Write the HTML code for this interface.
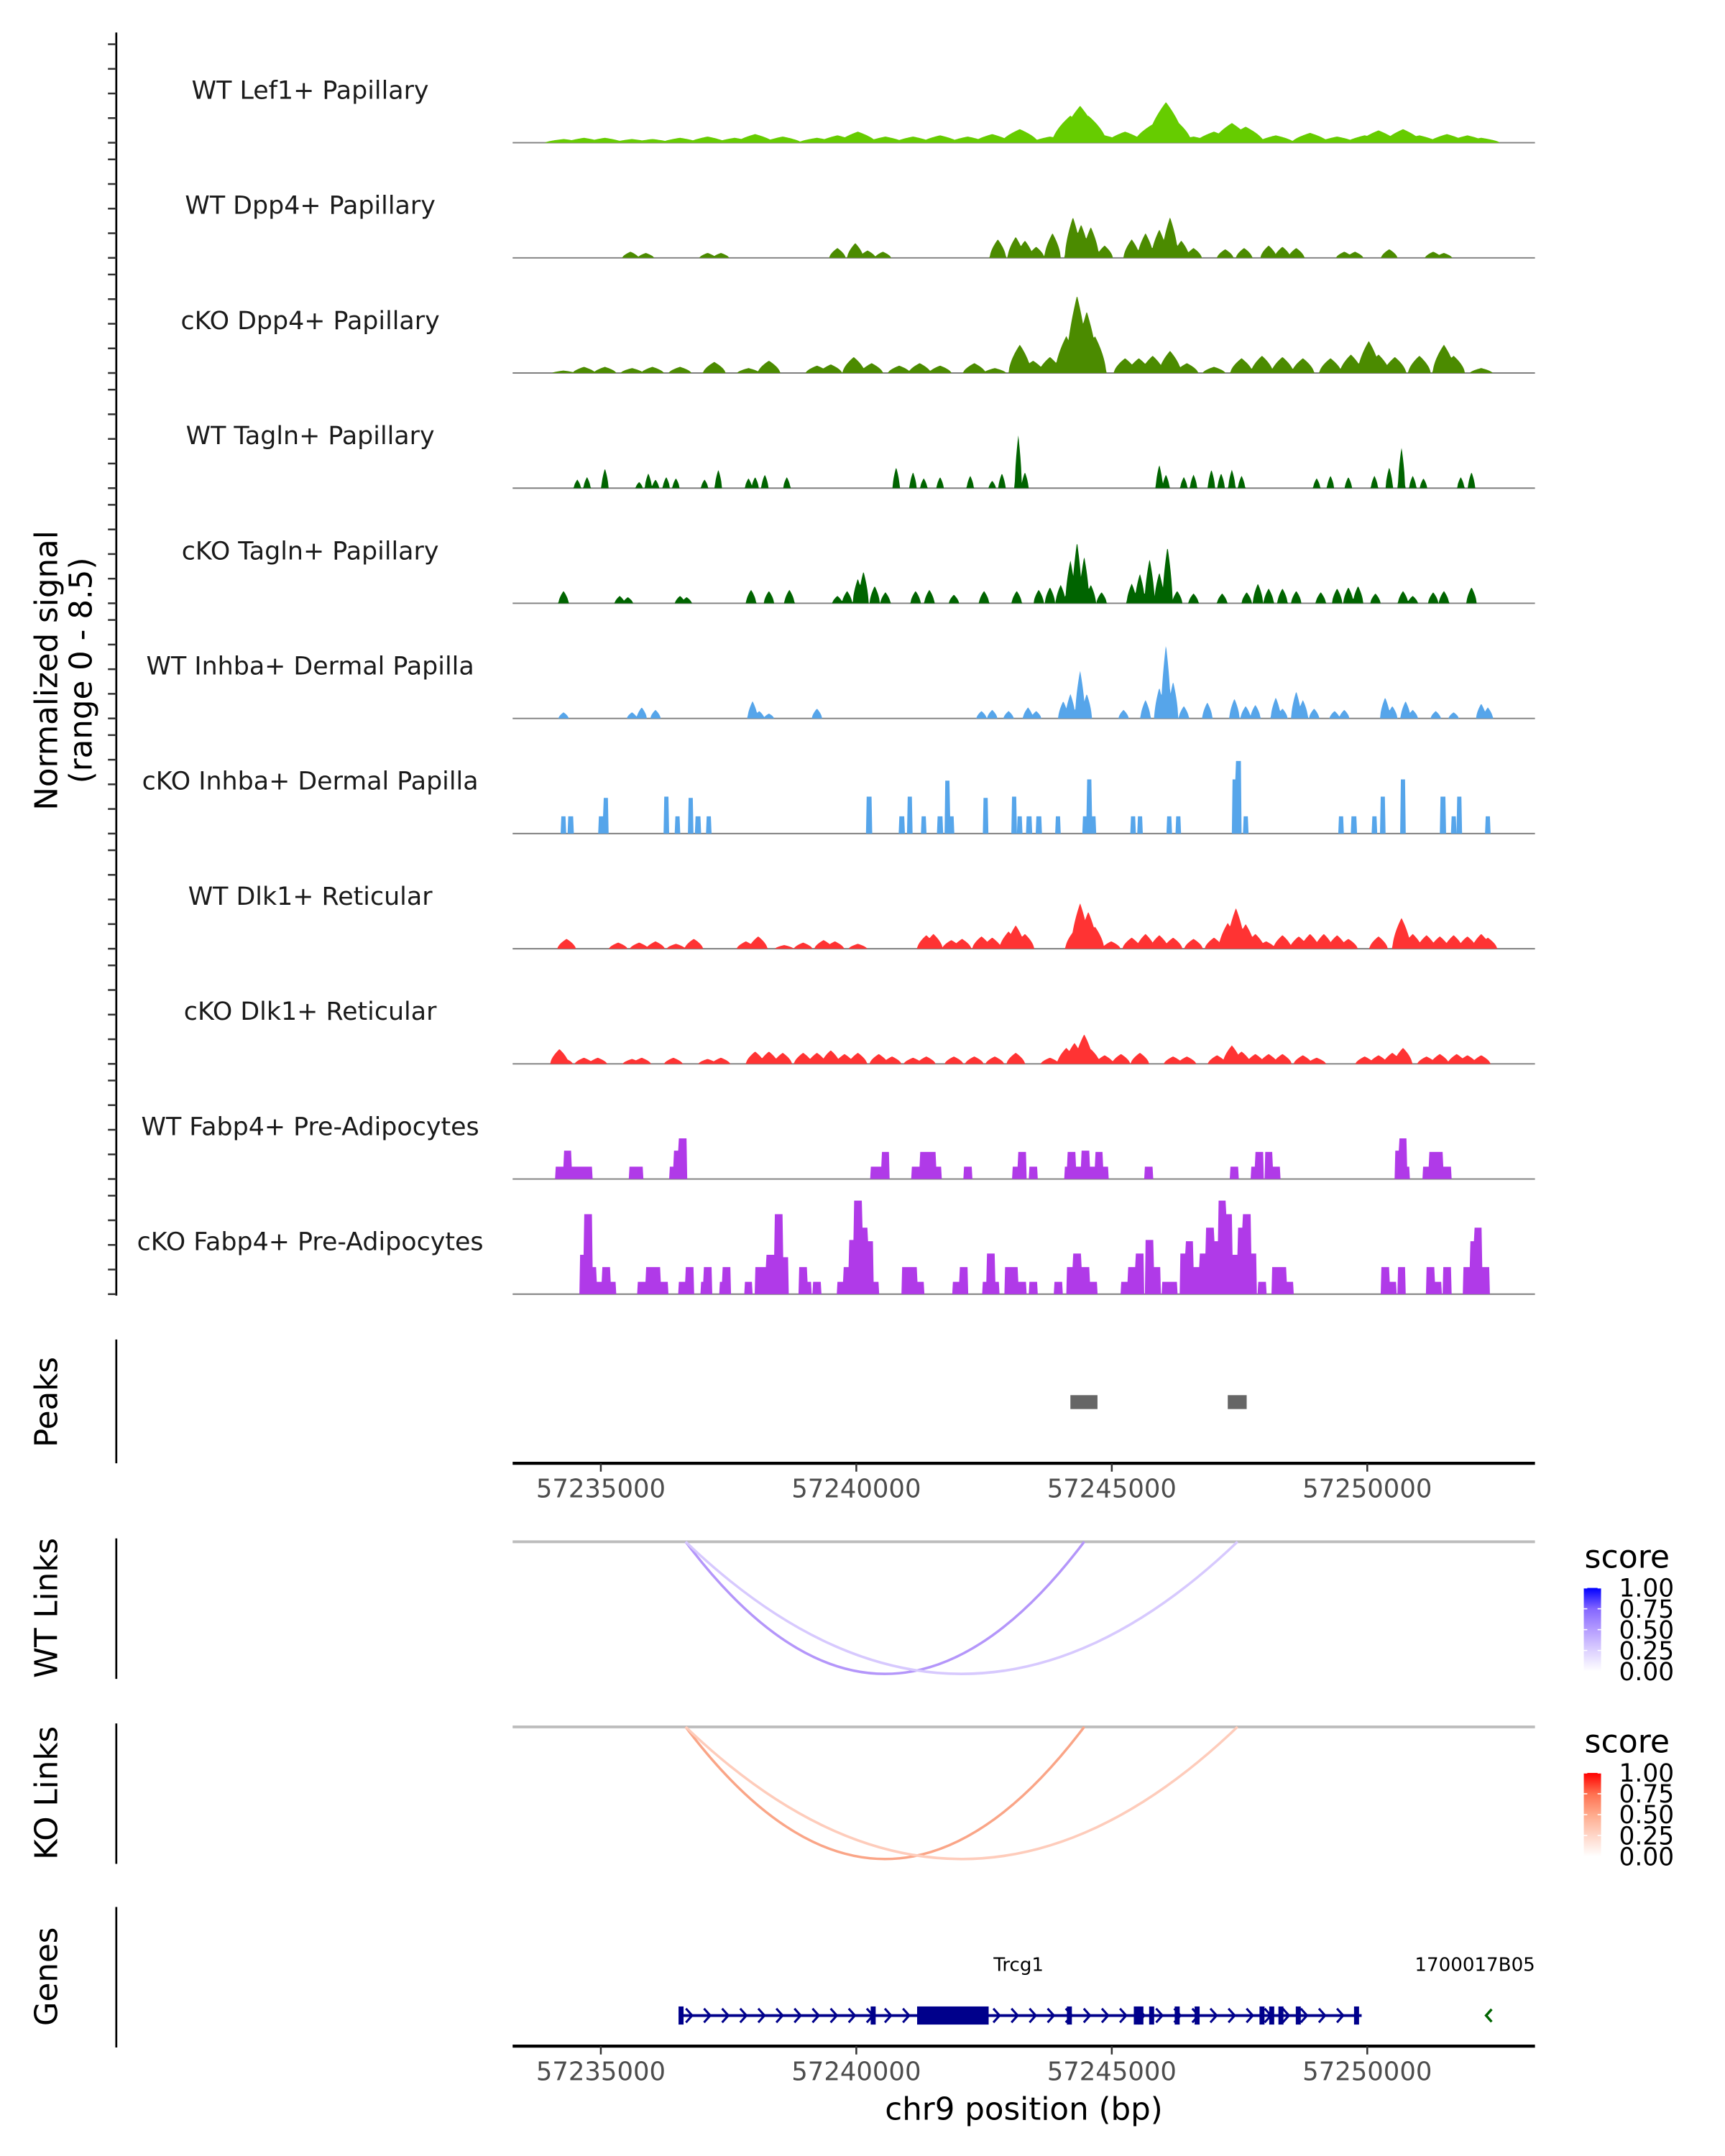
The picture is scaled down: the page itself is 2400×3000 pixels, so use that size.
<!DOCTYPE html>
<html><head><meta charset="utf-8"><style>
html,body{margin:0;padding:0;background:#fff;}
svg{display:block;font-family:"DejaVu Sans","Liberation Sans",sans-serif;}
</style></head><body>
<svg id="chart" width="2400" height="3000" viewBox="0 0 1240 1550" xmlns="http://www.w3.org/2000/svg">
<defs>
<linearGradient id="gBlue" x1="0" y1="1" x2="0" y2="0">
<stop offset="0" stop-color="#ffffff"/><stop offset="0.25" stop-color="#dcd0ff"/><stop offset="0.5" stop-color="#b49cff"/><stop offset="0.75" stop-color="#8466ff"/><stop offset="1" stop-color="#0000ff"/>
</linearGradient>
<linearGradient id="gRed" x1="0" y1="1" x2="0" y2="0">
<stop offset="0" stop-color="#ffffff"/><stop offset="0.25" stop-color="#ffd6c8"/><stop offset="0.5" stop-color="#ffaa8c"/><stop offset="0.75" stop-color="#ff7050"/><stop offset="1" stop-color="#ff0000"/>
</linearGradient>
<clipPath id="panelClip"><rect x="368.5" y="1380" width="735" height="100"/></clipPath>
</defs>
<g id="root"></g>
</svg>
<script>
// ---- data (positions in kb, offset: genomic bp = 57,000,000 + kb*1000) ----
const trackLabels = ["WT Lef1+ Papillary","WT Dpp4+ Papillary","cKO Dpp4+ Papillary","WT Tagln+ Papillary","cKO Tagln+ Papillary","WT Inhba+ Dermal Papilla","cKO Inhba+ Dermal Papilla","WT Dlk1+ Reticular","cKO Dlk1+ Reticular","WT Fabp4+ Pre-Adipocytes","cKO Fabp4+ Pre-Adipocytes"];
const lef1Pos = [234.27,234.67,235.08,235.61,236.01,236.55,237.09,237.62,238.02,238.56,239.23,239.63,240.03,240.57,241.11,241.64,242.18,242.66,243.12,243.20,243.79,244.19,244.38,244.54,244.86,245.26,245.80,246.06,246.20,246.60,247.00,247.35,247.62,248.21,248.88,249.41,249.95,250.22,250.70,251.02,251.56,251.96,252.23];
const lef1Ht = [.3,.4,.4,.3,.3,.4,.5,.4,.7,.5,.4,.6,.9,.5,.5,.6,.5,.7,.4,1.1,.5,2.2,3.0,2.2,.6,.9,1.5,3.3,2.0,.5,.9,1.6,1.3,.6,.8,.5,.6,1.0,1.1,.6,.7,.6,.4];
const wtDpp4Pos = [235.58,235.88,237.09,237.35,239.63,239.98,240.22,240.52,242.77,243.12,243.30,243.52,243.84,244.24,244.40,244.59,244.86,245.39,245.66,245.93,246.14,246.36,246.60,247.22,247.59,248.07,248.34,248.61,249.55,249.76,250.43,251.29,251.50];
const wtDpp4Ht = [.5,.4,.4,.4,.8,1.2,.6,.5,1.5,1.7,1.4,.9,2.0,3.3,2.7,2.5,1.0,1.5,2.0,2.3,3.3,1.4,.8,.7,.8,1.0,.9,.8,.5,.5,.7,.5,.4];
const koDpp4Pos = [234.27,234.67,235.08,235.61,236.01,236.55,237.22,237.89,238.29,239.23,239.50,239.95,240.30,240.84,241.24,241.64,242.31,242.71,243.20,243.46,243.79,244.11,244.32,244.51,244.67,245.26,245.53,245.80,246.14,246.47,247.00,247.54,247.94,248.34,248.74,249.28,249.68,250.03,250.22,250.54,251.02,251.50,251.69,252.23];
const koDpp4Ht = [.2,.5,.5,.4,.5,.5,.9,.4,1.0,.6,.7,1.3,.8,.6,.8,.6,.8,.4,2.3,1.0,1.3,3.0,6.3,5.0,3.0,1.2,1.2,1.4,1.8,.8,.5,1.2,1.4,1.3,1.2,1.2,1.5,2.6,1.5,1.3,1.4,2.3,1.4,.4];
const wtTaglnPos = [234.54,234.73,235.08,235.75,235.93,236.07,236.28,236.47,237.03,237.30,237.89,238.02,238.21,238.64,240.78,241.11,241.32,241.64,242.23,242.66,242.85,243.17,243.30,245.93,246.06,246.41,246.60,246.95,247.14,247.35,247.54,249.01,249.28,249.63,250.14,250.43,250.67,250.89,251.10,251.83,252.04];
const wtTaglnHt = [.7,.9,1.6,.5,1.2,.7,.9,.8,.7,1.5,.8,.9,1.1,.9,1.7,1.3,.8,.9,1.0,.6,1.2,4.3,1.3,1.9,1.1,.9,1.1,1.5,1.2,1.5,1.0,.8,1.0,.9,1.0,1.7,3.3,1.0,.8,.9,1.3];
const koTaglnPos = [234.27,235.37,235.53,236.55,236.68,237.94,238.29,238.69,239.63,239.82,240.03,240.14,240.36,240.57,241.16,241.43,241.91,242.50,243.14,243.57,243.79,244.00,244.19,244.32,244.46,244.59,244.80,245.39,245.55,245.74,245.93,246.09,246.28,246.60,247.16,247.64,247.86,248.07,248.34,248.61,249.09,249.41,249.63,249.82,250.16,250.70,250.89,251.29,251.50,252.04];
const koTaglnHt = [1.0,.6,.5,.6,.5,1.1,1.0,1.1,.6,1.0,2.0,2.6,1.4,.9,1.0,1.1,.7,1.0,1.0,1.1,1.3,1.5,3.5,5.0,3.8,1.5,.9,1.6,2.4,3.6,2.5,4.6,1.0,.8,.8,.9,1.6,1.2,1.2,1.0,.9,1.2,1.3,1.4,.8,1.0,.6,.9,1.0,1.3];
const wtInhbaPos = [234.27,235.61,235.80,236.07,237.97,238.10,238.29,239.23,242.45,242.66,242.98,243.36,243.52,244.05,244.19,244.38,244.51,245.23,245.66,245.93,246.06,246.20,246.41,246.87,247.40,247.62,247.81,248.21,248.34,248.61,248.74,248.96,249.36,249.55,250.35,250.49,250.75,250.89,251.34,251.69,252.23,252.36];
const wtInhbaHt = [.5,.5,.9,.7,1.4,.6,.4,.8,.6,.7,.6,.9,.6,1.4,2.0,3.9,2.0,.7,1.5,2.5,6.0,3.0,1.0,1.3,1.6,1.0,1.1,1.7,.8,2.2,1.5,.8,.6,.7,1.7,1.0,1.4,.7,.6,.5,1.2,.9];
const koInhbaPos = [234.27,234.41,235.00,235.10,236.28,236.50,236.76,236.90,237.11,240.25,240.89,241.05,241.32,241.64,241.78,241.86,242.53,243.09,243.20,243.38,243.57,243.95,244.48,244.56,244.64,245.42,245.55,246.12,246.30,247.40,247.48,247.62,249.49,249.74,250.14,250.30,250.70,251.48,251.69,251.80,252.36];
const koInhbaHt = [1.4,1.4,1.4,2.9,3.0,1.4,2.9,1.4,1.4,3.0,1.4,3.0,1.4,1.4,4.3,1.4,2.9,3.0,1.4,1.4,1.4,1.4,1.4,4.4,1.4,1.4,1.4,1.4,1.4,4.4,5.9,1.4,1.4,1.4,1.4,3.0,4.4,3.0,1.4,3.0,1.4];
const wtDlk1Pos = [234.33,235.34,235.75,236.07,236.47,236.82,237.84,238.08,238.59,238.96,239.36,239.58,240.03,241.37,241.51,241.86,242.07,242.45,242.66,242.98,243.12,243.30,244.27,244.38,244.54,244.67,244.99,245.39,245.66,245.93,246.20,246.60,247.00,247.27,247.43,247.62,247.81,248.02,248.34,248.66,248.88,249.15,249.41,249.63,250.22,250.67,250.89,251.16,251.42,251.69,251.96,252.23,252.36];
const wtDlk1Ht = [.8,.5,.5,.6,.4,.8,.6,1.0,.3,.5,.7,.6,.4,1.1,1.2,.7,.8,1.0,.9,1.4,1.9,1.2,1.5,3.7,3.0,1.8,.6,.9,1.2,1.1,.9,.8,.9,2.1,3.3,2.0,1.2,.6,1.1,1.0,1.2,1.2,1.1,.8,1.0,2.5,1.2,1.1,1.0,1.1,1.0,1.2,.9];
const koDlk1Pos = [234.19,234.27,234.67,234.94,235.61,235.80,236.42,237.09,237.35,238.02,238.29,238.56,238.96,239.23,239.50,239.77,240.03,240.44,240.70,241.11,241.37,241.91,242.31,242.71,243.12,243.79,244.11,244.27,244.46,244.59,244.86,245.18,245.55,246.20,246.47,247.06,247.35,247.54,247.81,248.07,248.34,248.74,249.01,249.95,250.22,250.49,250.70,251.16,251.42,251.75,251.96,252.23];
const koDlk1Ht = [1.2,.5,.5,.5,.4,.5,.5,.4,.5,1.0,1.0,.9,.9,.9,1.1,.8,.9,.8,.6,.5,.6,.6,.6,.6,.9,.5,1.3,1.7,2.4,1.2,.7,.8,.9,.6,.6,.7,1.5,1.0,.8,.8,.8,.7,.5,.6,.7,.9,1.3,.6,.8,.8,.7,.7];
const wtFabp4Pos = [234.19,234.35,234.46,234.62,234.75,235.64,235.75,236.42,236.50,236.60,240.36,240.49,240.57,241.16,241.32,241.48,241.59,242.18,243.14,243.25,243.46,244.16,244.21,244.32,244.48,244.59,244.75,244.86,245.72,247.40,247.81,247.89,248.07,248.21,250.62,250.70,250.75,251.16,251.29,251.40,251.56];
const wtFabp4Ht = [1.0,2.3,1.0,1.0,1.0,1.0,1.0,1.0,2.3,3.3,1.0,1.0,2.2,1.0,2.2,2.2,1.0,1.0,1.0,2.2,1.0,1.0,2.2,1.0,2.3,1.0,2.2,1.0,1.0,1.0,1.0,2.2,2.2,1.0,2.3,3.3,1.0,1.0,2.2,2.2,1.0];
const koFabp4Pos = [234.67,234.75,234.83,234.94,235.10,235.21,235.80,235.96,236.09,236.23,236.60,236.74,237.03,237.09,237.41,237.46,237.89,238.10,238.21,238.32,238.48,238.59,238.96,239.04,239.23,239.71,239.82,239.93,240.03,240.14,240.25,240.36,240.97,241.11,241.24,241.96,242.10,242.55,242.63,242.71,242.98,243.09,243.25,243.46,243.95,244.19,244.32,244.48,244.64,245.26,245.39,245.55,245.74,245.88,246.06,246.20,246.41,246.52,246.68,246.79,246.92,247.03,247.16,247.27,247.40,247.54,247.64,247.75,247.94,248.21,248.34,248.48,250.35,250.49,250.67,251.24,251.37,251.56,251.96,252.09,252.17,252.31];
const koFabp4Ht = [3.2,6.5,2.2,1.0,2.2,1.0,1.0,2.2,2.2,1.0,1.0,2.2,1.0,2.2,1.0,2.2,1.0,2.2,2.2,3.2,6.5,3.0,2.2,1.0,1.0,1.0,2.2,4.4,7.6,5.4,4.3,1.0,2.2,2.2,1.0,1.0,2.2,1.0,3.3,1.0,2.2,2.2,1.0,1.0,1.0,2.2,3.3,2.2,1.0,1.0,2.2,3.3,4.4,2.2,1.0,1.0,3.3,4.3,2.2,3.3,5.4,4.3,7.6,6.5,3.2,5.4,6.5,3.3,1.0,2.2,2.2,1.0,2.2,1.0,2.2,2.2,1.0,2.2,2.2,4.3,5.4,2.2];
const trackPos = [lef1Pos,wtDpp4Pos,koDpp4Pos,wtTaglnPos,koTaglnPos,wtInhbaPos,koInhbaPos,wtDlk1Pos,koDlk1Pos,wtFabp4Pos,koFabp4Pos];
const trackHt = [lef1Ht,wtDpp4Ht,koDpp4Ht,wtTaglnHt,koTaglnHt,wtInhbaHt,koInhbaHt,wtDlk1Ht,koDlk1Ht,wtFabp4Ht,koFabp4Ht];
const peakStarts = [244.19, 247.27];
const peakEnds = [244.72, 247.64];
const linkStarts = [236.66, 236.66];
const linkEnds = [244.46, 247.46];
const wtLinkScores = [0.5, 0.28];
const koLinkScores = [0.5, 0.3];
const geneStart = 236.57, geneEnd = 249.89;
const exonPos = [236.57,240.33,244.17,245.48,245.57,245.78,246.28,246.67,247.94,248.13,248.31,248.65,249.79];
const cdsStart = 241.19, cdsEnd = 242.59;
const xTicks = [235,240,245,250];
const xTickLabels = ["57235000","57240000","57245000","57250000"];
const legendTicks = [0,0.25,0.5,0.75,1];
const legendLabels = ["0.00","0.25","0.50","0.75","1.00"];

// ---- styles ----
const trackColors = ["#66cc00","#4b8b00","#4b8b00","#006400","#006400","#56a5ea","#56a5ea","#ff3333","#ff3333","#b03ae8","#b03ae8"];
const trackHalfW = [0.36,0.16,0.22,0.07,0.1,0.1,0.05,0.18,0.18,0.08,0.08];
const trackRect = [false,false,false,false,false,false,true,false,false,true,true];

const NS = 'http://www.w3.org/2000/svg';
const root = document.getElementById('root');
function mk(tag, attrs, parent, text){
  const e = document.createElementNS(NS, tag);
  for (const k in attrs) e.setAttribute(k, attrs[k]);
  if (text !== undefined) e.textContent = text;
  (parent || root).appendChild(e);
  return e;
}
const X0 = 368.5, X1 = 1103.4;
function xScale(kb){ return 431.9 + (kb - 235) * 36.73; }
function kbFromX(x){ return 235 + (x - 431.9) / 36.73; }
const UNIT = 8.85;
function baseY(i){ return 102.6 + 82.78 * i; }
function yScale(i, v){ return baseY(i) - v * UNIT; }

// ---- signal tracks ----
for (let i = 0; i < trackLabels.length; i++){
  const g = mk('g', {});
  
  
  const lab = mk('text', {x: 223, y: baseY(i) - 31.6, 'text-anchor': 'middle', 'font-size': 18, fill: '#1a1a1a'}, g, trackLabels[i]);
  
  
  const base = mk('line', {x1: X0, x2: X1, y1: baseY(i), y2: baseY(i), stroke: '#7f7f7f', 'stroke-width': 1}, g);
  
  
  const pos = trackPos[i], ht = trackHt[i], hw = trackHalfW[i];
  const n = Math.min(pos.length, ht.length);
  let d = 'M' + X0 + ' ' + baseY(i);
  for (let x = X0; x <= X1; x += 0.5){
    const kb = kbFromX(x);
    let v = 0;
    for (let k = 0; k < n; k++){
      const dist = Math.abs(kb - pos[k]);
      let c;
      if (trackRect[i]) c = dist <= hw ? ht[k] : 0;
      else { const t = Math.max(0, 1 - dist / hw); c = t > 0 ? ht[k] * Math.pow(t, 0.6) : 0; }
      if (c > v) v = c;
    }
    d += ' L' + x.toFixed(1) + ' ' + yScale(i, v).toFixed(2);
  }
  d += ' L' + X1 + ' ' + baseY(i) + ' Z';
  const area = mk('path', {d: d, fill: trackColors[i], stroke: 'none'}, g);
  
  
}

// ---- left signal axis ----
const ax = mk('g', {});


mk('line', {x1: 83.6, x2: 83.6, y1: 23.4, y2: baseY(10) + 1, stroke: '#000', 'stroke-width': 1.4}, ax);
for (let i = 0; i < trackLabels.length; i++){
  for (let k = 0; k < 5; k++){
    const t = mk('line', {x1: 77.6, x2: 83.6, y1: yScale(i, 2*k), y2: yScale(i, 2*k), stroke: '#333', 'stroke-width': 1.3}, ax);
    
    
  }
}
const yt = mk('text', {transform: 'translate(41,482) rotate(-90)', 'text-anchor': 'middle', 'font-size': 22.5, fill: '#000'}, ax);


mk('tspan', {x: 0, dy: 0}, yt, 'Normalized signal');
mk('tspan', {x: 0, dy: 25}, yt, '(range 0 - 8.5)');

function sideLabel(txt, cy, y1, y2, name){
  const g = mk('g', {});
  
  
  mk('line', {x1: 83.6, x2: 83.6, y1: y1, y2: y2, stroke: '#000', 'stroke-width': 1.4}, g);
  mk('text', {transform: 'translate(41,' + cy + ') rotate(-90)', 'text-anchor': 'middle', 'font-size': 22.5, fill: '#000'}, g, txt);
}
sideLabel('Peaks', 1008, 963, 1052, 'peaks-panel-label');
sideLabel('WT Links', 1156, 1106, 1207, 'wt-links-panel-label');
sideLabel('KO Links', 1289, 1239, 1340, 'ko-links-panel-label');
sideLabel('Genes', 1421, 1371, 1472, 'genes-panel-label');

// ---- peaks ----
for (let k = 0; k < peakStarts.length; k++){
  const r = mk('rect', {x: xScale(peakStarts[k]), y: 1003, width: xScale(peakEnds[k]) - xScale(peakStarts[k]), height: 10, fill: '#666666'});
  
  
}

function xAxis(y, name){
  const g = mk('g', {});
  
  
  mk('line', {x1: X0, x2: X1, y1: y, y2: y, stroke: '#000', 'stroke-width': 2.2}, g);
  for (let k = 0; k < xTicks.length; k++){
    const x = xScale(xTicks[k]);
    mk('line', {x1: x, x2: x, y1: y, y2: y + 6, stroke: '#333', 'stroke-width': 1.3}, g);
    const t = mk('text', {x: x, y: y + 24.5, 'text-anchor': 'middle', 'font-size': 18.3, fill: '#4d4d4d'}, g, xTickLabels[k]);
    
    
  }
}
xAxis(1052, 'peaks-x-axis');
xAxis(1471, 'genes-x-axis');
const xt = mk('text', {x: 736, y: 1524, 'text-anchor': 'middle', 'font-size': 22.5, fill: '#000'}, root, 'chr9 position (bp)');



// ---- links ----
const blueStops = [[255,255,255],[220,208,255],[180,150,250],[132,102,255],[0,0,255]];
const redStops = [[255,255,255],[255,214,200],[250,165,135],[255,112,80],[255,0,0]];
function colorFor(stops, s){
  const p = Math.max(0, Math.min(1, s)) * 4, i = Math.min(3, Math.floor(p)), f = p - i;
  const c = stops[i].map((v, j) => Math.round(v + (stops[i+1][j] - v) * f));
  return 'rgb(' + c.join(',') + ')';
}
function linksPanel(base, scores, stops, name){
  const g = mk('g', {});
  
  
  mk('line', {x1: X0, x2: X1, y1: base, y2: base, stroke: '#bdbdbd', 'stroke-width': 2}, g);
  for (let k = 0; k < scores.length; k++){
    const a = xScale(linkStarts[k]), b = xScale(linkEnds[k]);
    const p = mk('path', {d: 'M' + a + ' ' + base + ' Q' + ((a+b)/2) + ' ' + (base + 190) + ' ' + b + ' ' + base, fill: 'none', stroke: colorFor(stops, scores[k]), 'stroke-width': 1.8}, g);
    
    
  }
}
linksPanel(1108.4, wtLinkScores, blueStops, 'wt-links-panel');
linksPanel(1241.5, koLinkScores, redStops, 'ko-links-panel');

function legend(top, grad, name){
  const g = mk('g', {});
  
  
  mk('text', {x: 1139, y: top - 14.6, 'font-size': 22.8, fill: '#000'}, g, 'score');
  mk('rect', {x: 1138.5, y: top, width: 12.4, height: 60, fill: 'url(#' + grad + ')'}, g);
  for (let k = 0; k < legendTicks.length; k++){
    const y = top + 60 - legendTicks[k] * 60;
    mk('line', {x1: 1138.5, x2: 1141, y1: y, y2: y, stroke: '#fff', 'stroke-width': 0.8}, g);
    mk('line', {x1: 1148.4, x2: 1150.9, y1: y, y2: y, stroke: '#fff', 'stroke-width': 0.8}, g);
    mk('text', {x: 1163.8, y: y + 6.3, 'font-size': 17.8, fill: '#000'}, g, legendLabels[k]);
  }
}
legend(1141.6, 'gBlue', 'wt-score-legend');
legend(1274.6, 'gRed', 'ko-score-legend');

// ---- genes ----
const gg = mk('g', {});


const gy = 1449;
mk('line', {x1: xScale(geneStart), x2: xScale(geneEnd), y1: gy, y2: gy, stroke: '#00008b', 'stroke-width': 2}, gg);
for (let x = xScale(geneStart) + 6; x < xScale(geneEnd) - 3; x += 13){
  mk('path', {d: 'M' + (x-2.5) + ' ' + (gy-5) + ' L' + (x+2) + ' ' + gy + ' L' + (x-2.5) + ' ' + (gy+5), fill: 'none', stroke: '#00008b', 'stroke-width': 1.6}, gg);
}
for (let k = 0; k < exonPos.length; k++){
  const e = mk('rect', {x: xScale(exonPos[k]) - 1.8, y: gy - 6.5, width: 3.6, height: 13, fill: '#00008b'}, gg);
  
  
}
const cds = mk('rect', {x: xScale(cdsStart), y: gy - 6.5, width: xScale(cdsEnd) - xScale(cdsStart), height: 13, fill: '#00008b'}, gg);


const gl = mk('text', {x: xScale((geneStart + geneEnd) / 2) - 2, y: 1417, 'text-anchor': 'middle', 'font-size': 13.5, fill: '#000'}, gg, 'Trcg1');


const g2 = mk('g', {'clip-path': 'url(#panelClip)'});


mk('text', {x: 1017, y: 1417, 'font-size': 13.5, fill: '#000'}, g2, '1700017B05Rik');
mk('path', {d: 'M' + (xScale(252.38)+2) + ' ' + (gy-4.5) + ' L' + (xScale(252.38)-2) + ' ' + gy + ' L' + (xScale(252.38)+2) + ' ' + (gy+4.5), fill: 'none', stroke: '#006400', 'stroke-width': 1.8}, g2);
</script>
</body></html>
